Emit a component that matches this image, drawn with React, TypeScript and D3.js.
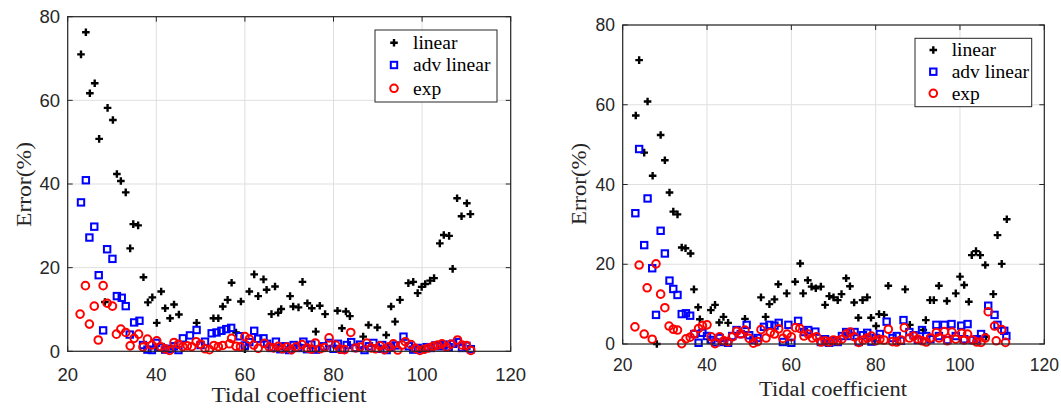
import React from "react";
import * as d3 from "d3";

// ---------- Data (left panel) ----------
const leftLinearX = [23, 24.1, 25, 26.1, 27.1, 28.4, 29, 30.2, 31.1, 32, 33.1, 34.1, 34.8, 35.9, 37.1, 38.1, 39.1, 40.1, 41.1, 42, 43.1, 44, 45.1, 49.1, 52.9, 54, 55, 56.1, 57, 58, 59.1, 60, 61, 62.1, 63, 64.2, 64.9, 66, 66.8, 67.5, 68.2, 70.2, 70.9, 72.1, 73, 74.1, 75.1, 76, 76.9, 78.1, 80.9, 81.9, 82.8, 83.7, 86.7, 87.9, 89.9, 91.9, 93, 93.9, 95, 96.9, 98, 99, 99.9, 100.7, 101.8, 102.7, 104, 104.9, 106.1, 106.9, 107.9, 108.9, 110.1, 110.9];
const leftLinearY = [71.0, 76.3, 61.7, 64.1, 50.8, 11.8, 58.2, 55.3, 42.4, 40.7, 38.0, 24.6, 30.4, 30.1, 17.7, 11.7, 12.9, 6.8, 14.3, 10.3, 7.9, 11.2, 8.8, 6.8, 7.9, 7.9, 10.7, 12.3, 16.4, 4.5, 11.9, 0.5, 14.3, 18.4, 13.2, 17.2, 14.7, 8.9, 15.5, 9.2, 10.1, 13.2, 10.7, 10.5, 16.6, 11.5, 10.3, 4.7, 10.9, 8.9, 9.7, 5.5, 9.5, 8.4, 3.5, 6.3, 5.7, 3.9, 10.7, 7.1, 12.3, 16.3, 16.6, 13.9, 15.4, 16.1, 16.9, 17.5, 25.8, 27.8, 27.6, 19.7, 36.6, 32.3, 35.4, 32.8];

const leftAdvX = [23, 24.1, 24.9, 26, 27, 28, 28.9, 30.1, 31.1, 32.2, 33.1, 34, 35, 36.2, 37, 38, 39, 40, 41, 42, 43, 44, 45, 46, 47.6, 49.1, 50, 51, 52.5, 53.6, 54.7, 55.8, 56.9, 58.8, 60, 61, 62.1, 63, 64.2, 65, 66, 67, 68, 69, 70, 71, 72, 73.2, 74, 75, 76, 77.7, 79, 80, 81, 82, 83, 84, 85, 86, 87, 88, 89, 90, 91, 92, 93, 94, 95.8, 97, 98, 99, 100, 101, 102, 103, 104, 105, 106, 107, 108, 109, 110, 111];
const leftAdvY = [35.6, 40.9, 27.2, 29.8, 18.2, 5.0, 24.4, 22.1, 13.2, 12.8, 10.8, 4.0, 6.9, 7.3, 1.5, 0.4, 0.3, 2.0, 1.0, 0.4, 0.6, 1.2, 0.3, 3.1, 3.8, 5.1, 1.5, 2.3, 4.3, 4.5, 4.9, 5.3, 5.6, 3.6, 1.4, 2.2, 4.9, 3.0, 3.1, 1.8, 0.8, 2.3, 0.5, 1.2, 0.3, 1.5, 0.8, 2.3, 0.5, 1.6, 0.4, 1.2, 2.0, 0.6, 1.8, 0.4, 1.5, 2.2, 0.8, 1.6, 0.3, 1.2, 2.0, 0.6, 1.5, 0.3, 1.0, 1.4, 3.5, 1.2, 0.4, 0.8, 0.5, 1.0, 0.8, 1.4, 1.2, 1.6, 1.0, 1.8, 2.2, 0.8, 1.3, 0.5];

const leftExpX = [22.8, 24, 24.9, 26, 26.9, 28, 28.9, 30.1, 31, 32, 33.1, 34.1, 35, 36, 37, 38, 39, 40.1, 41, 42, 43, 44, 45, 46, 47, 48, 49, 50, 51, 52, 53, 54, 55, 56.5, 57, 58, 59, 60, 61, 62, 63, 64.4, 65.5, 66.5, 67.5, 68.5, 69.5, 70.5, 71.5, 72.9, 74, 75, 75.9, 77, 78, 79, 80.5, 81.5, 82.5, 83.9, 85, 86, 87.5, 88.5, 89.5, 90.5, 91.5, 92.5, 93.5, 94.5, 95.5, 96.2, 97.5, 98.5, 99.5, 100.5, 101.5, 102.5, 103.5, 104.5, 105.5, 106.5, 108, 109, 110, 111];
const leftExpY = [8.9, 15.7, 6.5, 10.8, 2.7, 15.7, 11.5, 10.8, 4.1, 5.3, 4.5, 1.3, 3.1, 4.1, 1.0, 2.9, 1.5, 2.5, 1.1, 0.6, 0.2, 2.1, 1.7, 1.1, 1.3, 1.1, 2.3, 1.7, 0.6, 0.4, 1.4, 1.1, 1.4, 1.8, 3.1, 1.2, 1.1, 3.5, 2.9, 1.5, 0.7, 1.9, 1.0, 0.8, 1.2, 0.6, 1.0, 0.4, 1.0, 1.6, 0.8, 0.5, 2.0, 0.6, 0.9, 3.2, 1.5, 0.5, 0.4, 4.5, 0.8, 1.0, 2.0, 0.8, 0.6, 1.3, 0.4, 1.1, 1.8, 0.3, 1.5, 2.3, 1.6, 0.7, 0.2, 0.5, 0.8, 1.2, 1.5, 1.8, 1.0, 1.7, 2.7, 1.5, 1.4, 0.2];

// ---------- Data (right panel) ----------
const rightLinearX = [23.1, 23.9, 25.1, 25.9, 27.1, 28.1, 29.0, 30.0, 31.1, 32.0, 33.0, 34.0, 34.9, 36.1, 36.9, 37.9, 38.3, 40.9, 41.9, 42.9, 43.9, 45.0, 49.0, 52.8, 53.9, 54.8, 56.0, 56.9, 58.9, 60.9, 62.1, 62.8, 63.9, 64.8, 65.8, 67.0, 68.0, 69.0, 70.0, 71.0, 71.9, 73.0, 73.9, 74.9, 75.9, 76.9, 78.0, 78.9, 80.1, 80.8, 82.0, 83.0, 87.0, 88.1, 91.3, 91.9, 92.9, 93.8, 95.0, 96.9, 99.0, 100.0, 101.0, 102.1, 102.8, 103.8, 104.8, 106.0, 106.2, 107.9, 108.9, 109.9, 111.1];
const rightLinearY = [57.3, 71.2, 48.0, 60.8, 42.2, 0.0, 52.4, 46.1, 38.0, 33.2, 32.5, 24.2, 24.0, 22.7, 13.7, 9.2, 6.2, 8.5, 9.8, 5.4, 6.8, 5.3, 6.3, 11.7, 6.8, 10.0, 11.2, 15.0, 12.7, 15.6, 20.2, 12.7, 16.0, 14.4, 14.0, 14.4, 9.8, 12.0, 11.7, 11.0, 12.5, 16.5, 14.5, 10.4, 6.6, 11.0, 11.7, 6.6, 4.5, 7.5, 7.3, 14.6, 13.7, 4.8, 3.5, 6.0, 11.0, 11.0, 14.6, 10.8, 12.7, 16.9, 14.8, 10.6, 22.3, 23.3, 22.3, 19.8, 1.8, 12.5, 27.3, 20.1, 31.3];

const rightAdvX = [23.0, 23.9, 25.1, 25.9, 27.0, 27.9, 29.0, 30.0, 31.1, 32.0, 33.0, 34, 35, 36, 37, 38, 38.9, 40, 41, 42, 43, 44, 45, 46, 47, 48, 49.4, 50, 51, 52, 53.5, 54.8, 56, 57, 58, 59.3, 60, 61.6, 63, 64, 65.7, 67, 68, 69, 70, 71, 72, 73, 74, 75, 76, 77, 78, 79, 80, 81, 82.6, 84, 85, 86, 86.6, 88, 89, 90, 91, 92, 93, 94.4, 95, 96.3, 97, 98, 99, 100.3, 101, 101.8, 103, 104, 105, 106.7, 108.2, 108.9, 110.5, 111];
const rightAdvY = [32.8, 48.9, 24.8, 36.5, 19.0, 7.3, 28.4, 22.7, 15.9, 13.8, 12.3, 7.5, 7.7, 7.1, 2.5, 0.3, 2.8, 2.0, 1.0, 0.4, 1.5, 0.5, 0.3, 2.0, 3.5, 2.5, 4.8, 2.2, 1.0, 1.5, 4.3, 4.8, 4.6, 5.3, 0.5, 4.8, 0.3, 5.8, 3.0, 3.5, 3.1, 0.5, 1.2, 0.3, 0.8, 0.5, 2.0, 3.0, 2.0, 3.0, 0.5, 2.2, 2.8, 0.6, 1.5, 2.5, 5.6, 1.5, 2.0, 0.8, 6.0, 3.0, 2.2, 1.0, 3.5, 2.0, 1.2, 4.8, 2.0, 4.8, 1.0, 5.0, 2.0, 4.6, 1.2, 5.0, 1.0, 1.2, 2.5, 9.6, 7.3, 4.8, 3.3, 2.0];

const rightExpX = [22.9, 23.9, 25.1, 25.8, 27.0, 27.9, 29.0, 30.0, 31, 32, 33, 34, 35, 36, 36.9, 38, 38.9, 40, 41, 41.9, 43, 44, 45, 46, 47, 48, 49, 50, 51, 52, 52.8, 54, 55, 56, 57, 58, 59, 60, 61, 62, 63, 64, 65, 66, 67, 68, 69, 70, 71, 72, 73, 74, 75, 76, 77, 78, 79, 80, 81, 82, 83, 84, 85, 86, 86.8, 88, 89, 90, 91, 92, 93, 94.4, 95, 96.3, 97, 98.1, 99, 100.4, 101, 101.8, 103, 104, 105, 106, 106.7, 108.2, 108.6, 109.9, 110.8];
const rightExpY = [4.3, 19.8, 2.5, 14.1, 1.2, 20.1, 12.5, 9.1, 4.5, 3.7, 3.5, 0.1, 1.3, 1.7, 2.5, 3.9, 4.6, 4.8, 1.8, 0.1, 1.8, 0.8, 0.6, 1.8, 3.2, 2.5, 3.5, 1.4, 0.2, 0.6, 3.6, 1.5, 2.9, 2.5, 3.8, 1.4, 2.5, 1.8, 4.1, 3.9, 2.0, 2.5, 1.5, 1.8, 0.5, 0.8, 0.5, 1.0, 0.8, 1.2, 2.5, 3.0, 1.8, 0.4, 1.0, 1.5, 2.0, 0.8, 1.2, 1.0, 3.7, 0.6, 0.5, 1.0, 4.1, 1.5, 2.0, 1.2, 0.8, 0.5, 1.5, 2.9, 1.5, 3.1, 0.8, 3.0, 1.2, 2.7, 1.0, 2.5, 1.0, 0.5, 0.4, 1.5, 8.1, 4.5, 0.8, 3.6, 0.4];

const xTicks = [20, 40, 60, 80, 100, 120];
const yTicks = [0, 20, 40, 60, 80];
const legendLabels = ["linear", "adv linear", "exp"];
const xLabel = "Tidal coefficient";
const yLabel = "Error(%)";

const AXIS = "#262626";
const GRID = "#dfdfdf";
const SERIF = "'Liberation Serif', 'Times New Roman', serif";
const SANS = "'Liberation Sans', Arial, Helvetica, sans-serif";

type PanelCfg = {
  x0: number; x1: number; y0: number; y1: number;
  tickFont: number;
  xTickBase: number; yTickRight: number;
  xLabelX: number; xLabelBase: number; xLabelLen: number;
  yLabelX: number; yLabelY: number; yLabelLen: number;
  legend: { x: number; y: number; w: number; h: number; markX: number; textX: number; rows: number[] };
  linX: number[]; linY: number[]; advX: number[]; advY: number[]; expX: number[]; expY: number[];
};

const Plus = ({ x, y }: { x: number; y: number }) => (
  <path d={`M${x - 3.8},${y}H${x + 3.8}M${x},${y - 3.8}V${y + 3.8}`} stroke="#000" strokeWidth={2.4} fill="none" />
);
const Sq = ({ x, y }: { x: number; y: number }) => (
  <rect x={x - 3.2} y={y - 3.2} width={6.4} height={6.4} stroke="#0000ff" strokeWidth={2} fill="none" />
);
const Circ = ({ x, y }: { x: number; y: number }) => (
  <circle cx={x} cy={y} r={3.8} stroke="#ff0000" strokeWidth={2} fill="none" />
);

function Panel({ c }: { c: PanelCfg }) {
  const xs = d3.scaleLinear().domain([20, 120]).range([c.x0, c.x1]);
  const ys = d3.scaleLinear().domain([0, 80]).range([c.y0, c.y1]);
  const tl = 5;
  return (
    <g>
      {xTicks.map((t) => (
        <line key={"gx" + t} x1={xs(t)} x2={xs(t)} y1={c.y0} y2={c.y1} stroke={GRID} strokeWidth={1} />
      ))}
      {yTicks.map((t) => (
        <line key={"gy" + t} x1={c.x0} x2={c.x1} y1={ys(t)} y2={ys(t)} stroke={GRID} strokeWidth={1} />
      ))}
      {c.linX.map((v, i) => <Plus key={"l" + i} x={xs(v)} y={ys(c.linY[i])} />)}
      {c.advX.map((v, i) => <Sq key={"a" + i} x={xs(v)} y={ys(c.advY[i])} />)}
      {c.expX.map((v, i) => <Circ key={"e" + i} x={xs(v)} y={ys(c.expY[i])} />)}
      <rect x={c.x0} y={c.y1} width={c.x1 - c.x0} height={c.y0 - c.y1} fill="none" stroke={AXIS} strokeWidth={1.2} />
      {xTicks.map((t) => (
        <g key={"tx" + t}>
          <line x1={xs(t)} x2={xs(t)} y1={c.y0} y2={c.y0 - tl} stroke={AXIS} strokeWidth={1} />
          <line x1={xs(t)} x2={xs(t)} y1={c.y1} y2={c.y1 + tl} stroke={AXIS} strokeWidth={1} />
          <text x={xs(t)} y={c.xTickBase} textAnchor="middle" fontFamily={SANS} fontSize={c.tickFont} fill={AXIS}>{t}</text>
        </g>
      ))}
      {yTicks.map((t) => (
        <g key={"ty" + t}>
          <line x1={c.x0} x2={c.x0 + tl} y1={ys(t)} y2={ys(t)} stroke={AXIS} strokeWidth={1} />
          <line x1={c.x1} x2={c.x1 - tl} y1={ys(t)} y2={ys(t)} stroke={AXIS} strokeWidth={1} />
          <text x={c.yTickRight} y={ys(t)} dy="0.35em" textAnchor="end" fontFamily={SANS} fontSize={c.tickFont} fill={AXIS}>{t}</text>
        </g>
      ))}
      <text x={c.xLabelX} y={c.xLabelBase} textAnchor="middle" fontFamily={SERIF} fontSize={20} fill={AXIS}
        textLength={c.xLabelLen} lengthAdjust="spacingAndGlyphs">{xLabel}</text>
      <text transform={`translate(${c.yLabelX},${c.yLabelY}) rotate(-90)`} textAnchor="middle" fontFamily={SERIF} fontSize={21} fill={AXIS}
        textLength={c.yLabelLen} lengthAdjust="spacingAndGlyphs">{yLabel}</text>
      <rect x={c.legend.x} y={c.legend.y} width={c.legend.w} height={c.legend.h} fill="#fff" stroke="#262626" strokeWidth={1} />
      {legendLabels.map((lab, i) => {
        const yy = c.legend.rows[i];
        const mx = c.legend.markX;
        return (
          <g key={lab}>
            {i === 0 && <Plus x={mx} y={yy} />}
            {i === 1 && <Sq x={mx} y={yy} />}
            {i === 2 && <Circ x={mx} y={yy} />}
            <text x={c.legend.textX} y={yy} dy="0.32em" fontFamily={SERIF} fontSize={19.5} fill="#000">{lab}</text>
          </g>
        );
      })}
    </g>
  );
}

const leftCfg: PanelCfg = {
  x0: 67.7, x1: 510.7, y0: 351.3, y1: 16.7,
  tickFont: 18.5, xTickBase: 381, yTickRight: 60,
  xLabelX: 289, xLabelBase: 402, xLabelLen: 155,
  yLabelX: 31, yLabelY: 184.5, yLabelLen: 85,
  legend: { x: 375, y: 30, w: 122, h: 72, markX: 394, textX: 413, rows: [42.7, 65, 88.3] },
  linX: leftLinearX, linY: leftLinearY, advX: leftAdvX, advY: leftAdvY, expX: leftExpX, expY: leftExpY,
};

const rightCfg: PanelCfg = {
  x0: 622.7, x1: 1044.3, y0: 344, y1: 25,
  tickFont: 17.5, xTickBase: 371, yTickRight: 615,
  xLabelX: 833, xLabelBase: 396, xLabelLen: 148,
  yLabelX: 586, yLabelY: 184, yLabelLen: 82,
  legend: { x: 915, y: 38.3, w: 116.7, h: 68.4, markX: 933.3, textX: 951.7, rows: [50, 71.7, 93.3] },
  linX: rightLinearX, linY: rightLinearY, advX: rightAdvX, advY: rightAdvY, expX: rightExpX, expY: rightExpY,
};

export default function App() {
  return (
    <div style={{ position: "fixed", left: 0, top: 0 }}>
      <svg width={1061} height={408} viewBox="0 0 1061 408" style={{ display: "block", background: "#fff" }}>
        <rect width={1061} height={408} fill="#fff" />
        <Panel c={leftCfg} />
        <Panel c={rightCfg} />
      </svg>
    </div>
  );
}
